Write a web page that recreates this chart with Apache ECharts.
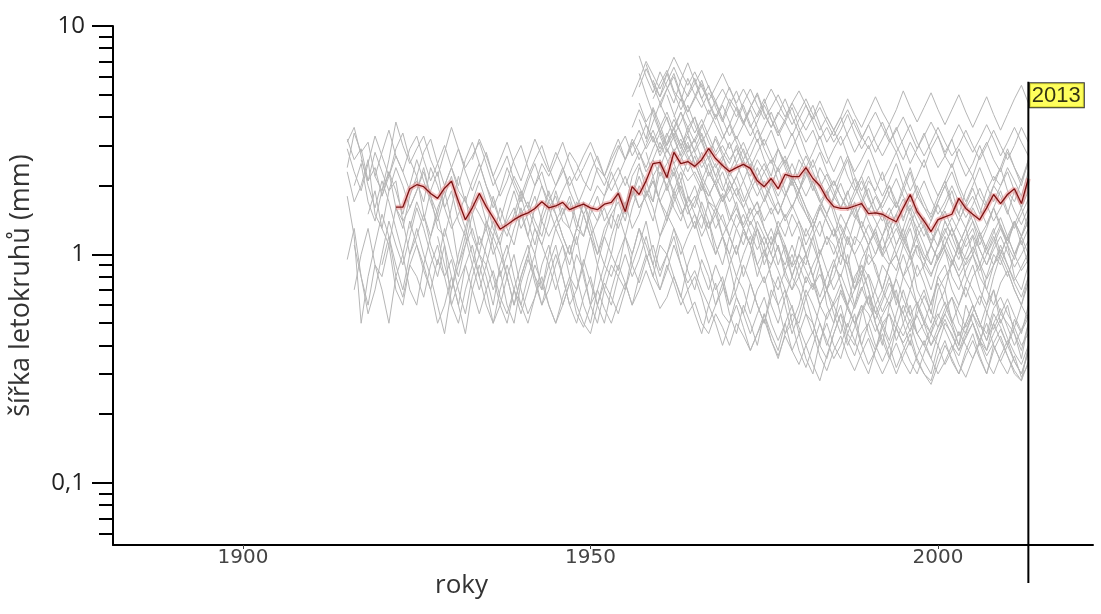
<!DOCTYPE html>
<html>
<head>
<meta charset="utf-8">
<title>šířka letokruhů</title>
<script src="https://cdn.jsdelivr.net/npm/echarts@6/dist/echarts.min.js"></script>
<style>
	html, body { margin: 0; padding: 0; background: #fff; }
	#chart { width: 1101px; height: 614px; }
</style>
</head>
<body>
<div id="chart"></div>
<script>
	// poslední rok - svislá značka
	const lastYear = 2013;
	const markerTop = 5.7;
	const markerBottom = 0.0365;
	const xTickYears = [1900, 1950, 2000];
	const yMajorTicks = [0.1, 1, 10];
	const yMinorTicks = [0.06, 0.07, 0.08, 0.09, 0.2, 0.3, 0.4, 0.5, 0.6, 0.7, 0.8, 0.9,
		2, 3, 4, 5, 6, 7, 8, 9];

	// průměrná křivka (1922 - 2013)
	const meanValues = [
		1.61, 1.61, 1.94, 2.02, 1.98, 1.85, 1.76, 1.95, 2.09, 1.71,
		1.42, 1.60, 1.85, 1.62, 1.45, 1.29, 1.35, 1.42, 1.48, 1.52,
		1.59, 1.70, 1.60, 1.63, 1.69, 1.57, 1.62, 1.66, 1.60, 1.57,
		1.66, 1.69, 1.85, 1.54, 1.98, 1.83, 2.10, 2.50, 2.53, 2.17,
		2.80, 2.50, 2.55, 2.43, 2.60, 2.91, 2.63, 2.45, 2.31, 2.40,
		2.48, 2.38, 2.10, 1.98, 2.15, 1.94, 2.24, 2.19, 2.19, 2.40,
		2.15, 2.00, 1.76, 1.62, 1.59, 1.59, 1.63, 1.67, 1.51, 1.52,
		1.50, 1.44, 1.39, 1.60, 1.83, 1.54, 1.40, 1.26, 1.42, 1.46,
		1.50, 1.76, 1.59, 1.50, 1.42, 1.60, 1.83, 1.67, 1.83, 1.94,
		1.67, 2.15
	];

	// jednotlivé vzorky, každý končí rokem 2013
	const grayValues = [
		[3.2, 2.6, 2.9, 2.1, 2.4, 1.8, 2.2, 2.7, 2.3, 1.9,
			2.1, 1.7, 2.4, 2.0, 1.6, 1.9, 1.4, 1.2, 1.7, 1.5,
			1.3, 1.0, 1.2, 1.4, 1.6, 1.3, 1.5, 1.8, 1.4, 1.2,
			1.4, 1.6, 1.3, 1.1, 1.5, 1.2, 1.0, 1.3, 1.5, 1.7,
			1.4, 1.9, 1.6, 1.8, 2.1, 1.7, 1.5, 1.9, 1.6, 1.3,
			1.5, 1.2, 1.4, 1.1, 0.9, 1.2, 1.0, 1.3, 1.1, 0.8,
			1.0, 0.9, 1.1, 0.8, 0.7, 0.9, 1.0, 0.8, 0.6, 0.7,
			0.9, 0.8, 1.0, 0.7, 0.8, 0.6, 0.7, 0.9, 0.8, 0.6,
			0.8, 1.0, 0.7, 0.6, 0.5, 0.7, 0.8, 0.9, 1.1, 0.8,
			0.7, 0.6, 0.8, 1.0, 0.9, 1.1, 0.8, 0.7, 0.9],
		[0.95, 1.3, 0.8, 0.55, 0.7, 1.0, 1.4, 1.1, 0.9, 1.2,
			1.6, 1.3, 1.0, 0.8, 1.1, 0.6, 0.5, 0.7, 0.9, 1.2,
			1.0, 0.8, 0.6, 0.5, 0.7, 0.9, 1.1, 0.8, 0.7, 1.0,
			1.3, 1.1, 0.9, 1.2, 0.8, 0.6, 0.9, 1.2, 1.0, 1.4,
			1.7, 1.3, 1.5, 1.9, 1.6, 1.2, 1.4, 1.8, 2.1, 1.6,
			1.3, 1.7, 1.4, 1.0, 1.2, 0.9, 1.1, 0.8, 1.0, 1.3,
			1.1, 0.8, 0.6, 0.7, 0.5, 0.6, 0.8, 0.7, 0.9, 0.6,
			0.5, 0.7, 0.6, 0.8, 0.9, 0.7, 0.5, 0.4, 0.6, 0.7,
			0.5, 0.4, 0.6, 0.5, 0.45, 0.6, 0.7, 0.5, 0.4, 0.6,
			0.5, 0.4, 0.55, 0.7, 0.5, 0.6, 0.45, 0.35, 0.5],
		[2.4, 3.4, 2.8, 3.1, 2.2, 1.9, 2.6, 3.8, 3.0, 2.5,
			2.9, 3.3, 2.6, 2.2, 2.8, 3.6, 2.9, 2.4, 2.7, 3.1,
			2.5, 2.0, 2.3, 2.7, 2.1, 1.8, 2.2, 2.6, 3.0, 2.4,
			2.0, 2.3, 2.8, 2.5, 2.1, 1.9, 2.4, 2.2, 2.7, 3.2,
			2.6, 3.0, 3.5, 2.9, 3.3, 2.7, 3.1, 3.6, 3.0, 2.6,
			2.9, 3.4, 2.8, 2.4, 2.7, 2.2, 2.5, 2.9, 2.4, 2.0,
			2.3, 2.6, 2.1, 1.8, 2.2, 1.9, 2.4, 2.0, 1.7, 1.5,
			1.8, 1.6, 1.9, 1.5, 1.3, 1.6, 1.4, 1.2, 1.5, 1.7,
			1.4, 1.8, 1.5, 1.3, 1.1, 1.4, 1.6, 1.9, 1.5, 1.3,
			1.6, 1.4, 1.7, 2.0, 1.8, 1.5, 1.9, 1.6, 2.1],
		[2.0, 2.5, 1.7, 1.4, 1.9, 2.3, 1.6, 1.3, 1.8,
			2.2, 1.5, 1.2, 1.6, 1.9, 1.4, 0.9, 1.1, 1.5, 1.8,
			1.4, 1.1, 0.8, 1.0, 1.3, 1.6, 1.2, 1.0, 1.4, 1.7,
			1.5, 1.2, 1.0, 1.3, 1.7, 1.4, 1.1, 0.9, 1.2, 1.5,
			1.2, 1.6, 2.0, 1.7, 1.4, 1.9, 2.3, 1.8, 1.5, 1.7,
			2.0, 1.6, 1.3, 1.5, 1.2, 1.4, 1.7, 1.3, 1.1, 1.3,
			1.0, 1.2, 0.9, 1.1, 0.8, 1.0, 1.3, 1.1, 0.9, 0.7,
			0.9, 1.1, 0.8, 0.6, 0.8, 1.0, 0.9, 0.7, 0.6, 0.8,
			1.0, 0.8, 0.6, 0.7, 0.55, 0.8, 0.9, 0.7, 0.6, 0.75,
			0.9, 0.7, 0.6, 0.8, 1.0, 0.85, 0.7, 0.6, 0.8],
		[1.8, 1.2, 0.5, 0.8, 1.1, 1.5, 1.2, 0.9, 0.7, 1.0,
			1.3, 1.0, 0.8, 0.6, 0.45, 0.7, 0.9, 1.2, 0.9, 0.7,
			0.9, 1.2, 1.0, 0.8, 0.6, 0.8, 1.0, 1.3, 1.1, 0.9,
			0.7, 0.9, 1.1, 0.8, 0.6, 0.5, 0.7, 0.9, 0.8, 1.0,
			1.2, 1.0, 1.3, 1.1, 0.9, 1.2, 1.5, 1.3, 1.0, 1.2,
			1.4, 1.1, 0.9, 0.7, 0.8, 0.6, 0.7, 0.9, 0.75, 0.6,
			0.5, 0.65, 0.8, 0.6, 0.45, 0.55, 0.7, 0.6, 0.5, 0.4,
			0.5, 0.6, 0.45, 0.4, 0.55, 0.65, 0.5, 0.42, 0.35, 0.48,
			0.6, 0.5, 0.4, 0.34, 0.3, 0.4, 0.5, 0.45, 0.38, 0.46,
			0.55, 0.45, 0.38, 0.5, 0.42, 0.36, 0.3, 0.28, 0.4],
		[2.6, 2.1, 2.8, 2.3, 1.9, 2.4, 2.0, 1.6,
			1.9, 2.3, 1.8, 1.5, 2.0, 2.4, 1.9, 1.7, 2.1, 2.5,
			2.0, 1.7, 1.4, 1.8, 2.2, 1.9, 1.6, 2.0, 2.3, 1.8,
			1.6, 1.9, 2.2, 1.8, 1.5, 1.7, 2.0, 1.8, 2.1, 2.4,
			2.0, 2.4, 2.8, 2.3, 2.6, 2.2, 2.5, 2.9, 2.4, 2.1,
			2.3, 2.0, 1.8, 2.1, 1.7, 1.9, 2.2, 1.8, 1.5, 1.7,
			1.4, 1.6, 1.3, 1.5, 1.2, 1.4, 1.1, 1.3, 1.0, 1.2,
			1.1, 0.9, 1.2, 1.0, 0.8, 1.1, 1.3, 1.0, 0.9, 1.1,
			1.3, 1.0, 0.8, 0.9, 1.1, 0.95, 1.2, 1.0, 0.85, 1.0,
			1.2, 0.9, 1.1, 1.3, 1.0, 1.2, 1.4, 1.1, 1.3],
		[1.1, 0.8, 0.6, 0.9, 0.7, 0.5, 0.8, 1.0, 0.7,
			0.6, 0.9, 0.7, 0.5, 0.6, 0.8, 0.6, 0.45, 0.7, 0.9,
			0.7, 0.5, 0.6, 0.8, 1.0, 0.7, 0.55, 0.65, 0.9, 1.1,
			0.8, 0.6, 0.75, 1.0, 0.85, 0.6, 0.5, 0.7, 0.9, 0.8,
			1.0, 0.8, 0.95, 1.2, 0.9, 0.7, 0.85, 1.1, 0.9, 0.7,
			0.8, 0.65, 0.5, 0.6, 0.75, 0.55, 0.45, 0.6, 0.5, 0.4,
			0.55, 0.45, 0.38, 0.5, 0.6, 0.45, 0.35, 0.3, 0.42, 0.5,
			0.4, 0.35, 0.45, 0.55, 0.4, 0.33, 0.38, 0.48, 0.4, 0.32,
			0.38, 0.45, 0.35, 0.3, 0.28, 0.36, 0.42, 0.34, 0.3, 0.38,
			0.45, 0.36, 0.3, 0.4, 0.34, 0.3, 0.36, 0.29, 0.33],
		[2.9, 2.3, 1.9, 2.5, 3.3, 2.7, 2.2, 2.9, 3.4, 2.6,
			2.2, 2.8, 3.2, 2.5, 2.0, 2.4, 2.9, 2.3, 1.9, 2.3,
			2.8, 2.2, 1.8, 2.1, 2.6, 3.0, 2.4, 2.0, 2.5, 2.2,
			2.6, 3.1, 2.5, 2.1, 2.4, 2.8, 2.3, 2.0, 2.4, 2.9,
			3.3, 2.7, 3.1, 3.7, 3.2, 2.8, 3.3, 3.9, 3.4, 2.9,
			3.2, 3.7, 3.1, 2.7, 3.0, 2.6, 2.9, 2.5, 2.2, 2.6,
			2.3, 2.0, 2.4, 2.7, 2.2, 1.9, 2.3, 2.0, 1.7, 1.9,
			2.1, 1.8, 1.6, 1.9, 2.2, 1.8, 1.5, 1.7, 2.0, 1.6,
			1.9, 2.3, 1.8, 1.6, 1.4, 1.7, 2.0, 2.3, 1.9, 1.6,
			1.8, 1.5, 1.9, 2.2, 2.0, 2.4, 2.1, 1.8, 2.3],
		[1.5, 1.9, 1.3, 1.1, 1.6, 1.4, 1.0,
			1.2, 1.5, 1.1, 0.9, 1.3, 1.0, 0.8, 1.1, 1.3, 1.0,
			0.8, 0.6, 0.9, 1.1, 0.8, 0.6, 0.8, 1.0, 0.7, 0.9,
			1.1, 0.8, 0.6, 0.7, 0.9, 1.2, 0.9, 0.7, 0.6, 0.8,
			0.7, 1.0, 1.3, 1.0, 0.8, 1.1, 1.0, 0.8, 0.65, 0.9,
			1.1, 0.85, 0.7, 0.9, 0.75, 0.6, 0.8, 0.7, 0.55, 0.7,
			0.8, 0.6, 0.5, 0.65, 0.8, 0.7, 0.55, 0.45, 0.6, 0.7,
			0.55, 0.45, 0.6, 0.5, 0.4, 0.5, 0.6, 0.5, 0.42, 0.55,
			0.7, 0.55, 0.45, 0.5, 0.4, 0.48, 0.58, 0.65, 0.5, 0.45,
			0.55, 0.48, 0.6, 0.7, 0.55, 0.5, 0.45, 0.38, 0.5],
		[1.8, 2.3, 1.9, 1.5, 2.0,
			2.6, 2.1, 1.7, 1.4, 1.8, 2.2, 1.6, 1.3, 1.7, 2.1,
			1.7, 1.3, 1.1, 1.5, 1.9, 1.5, 1.2, 1.6, 2.0, 1.6,
			1.3, 1.5, 1.8, 1.4, 1.2, 1.5, 1.8, 1.4, 1.6, 1.9,
			1.5, 1.8, 2.2, 1.8, 2.1, 1.7, 2.0, 2.4, 1.9, 1.6,
			1.8, 1.5, 1.3, 1.6, 1.4, 1.2, 1.5, 1.3, 1.1, 1.4,
			1.2, 1.0, 1.3, 1.1, 0.9, 1.2, 1.0, 0.8, 1.0, 1.2,
			1.0, 1.2, 0.9, 0.75, 0.95, 1.1, 0.85, 0.7, 0.9, 1.0,
			0.8, 0.9, 1.1, 0.85, 0.7, 0.9, 1.05, 0.8, 0.7, 0.85,
			1.0, 0.8, 0.7, 0.9, 1.1, 0.9, 0.75, 0.65, 0.8],
		[3.1, 3.6, 2.7, 2.0, 1.6, 2.1, 1.7, 1.3, 1.0, 1.4,
			1.1, 0.9, 1.2, 1.5, 1.1, 0.8, 0.6, 0.9, 1.1, 0.8,
			0.6, 0.5, 0.7, 0.9, 0.7, 0.55, 0.7, 0.9, 0.75, 0.6,
			0.5, 0.65, 0.8, 0.6, 0.5, 0.45, 0.6, 0.75, 0.65, 0.55,
			0.7, 0.9, 0.75, 0.95, 1.1, 0.85, 1.0, 1.2, 0.9, 0.75,
			0.85, 0.7, 0.6, 0.75, 0.55, 0.5, 0.65, 0.55, 0.45, 0.55,
			0.65, 0.5, 0.42, 0.5, 0.38, 0.45, 0.55, 0.5, 0.4, 0.35,
			0.45, 0.55, 0.42, 0.36, 0.45, 0.5, 0.4, 0.34, 0.4, 0.48,
			0.4, 0.34, 0.3, 0.37, 0.45, 0.4, 0.33, 0.38, 0.46, 0.4,
			0.35, 0.42, 0.5, 0.4, 0.34, 0.4, 0.48, 0.4, 0.45],
		[2.2, 2.8, 3.5, 2.7, 2.3, 2.9,
			3.3, 2.6, 2.1, 2.5, 3.0, 2.4, 2.0, 2.6, 3.1, 2.5,
			2.0, 1.6, 1.9, 2.4, 2.0, 1.7, 2.1, 2.5, 2.0, 1.7,
			2.0, 2.4, 1.9, 1.6, 1.9, 2.3, 2.7, 2.2, 1.9, 2.2,
			2.6, 3.1, 2.6, 3.0, 3.5, 2.9, 3.4, 2.8, 3.2, 2.7,
			2.4, 2.8, 2.3, 2.0, 2.3, 1.9, 2.2, 2.6, 2.1, 1.8,
			2.1, 1.8, 1.5, 1.8, 2.1, 1.7, 1.5, 1.3, 1.6, 1.4,
			1.2, 1.5, 1.3, 1.1, 1.4, 1.2, 1.0, 1.2, 1.4, 1.1,
			1.3, 1.6, 1.2, 1.0, 0.9, 1.1, 1.3, 1.1, 0.95, 1.15,
			1.3, 1.05, 0.9, 1.1, 1.3, 1.15, 1.4, 1.2, 1.5],
		[1.2, 0.9, 0.7, 1.0, 1.3, 1.0, 0.8,
			1.1, 1.4, 1.1, 0.8, 0.6, 0.8, 1.0, 0.75, 0.6, 0.8,
			1.0, 0.8, 0.6, 0.5, 0.65, 0.8, 0.6, 0.5, 0.7, 0.9,
			0.75, 0.6, 0.8, 1.0, 0.8, 0.7, 0.9, 0.75, 0.6, 0.7,
			0.55, 0.45, 0.6, 0.5, 0.4, 0.5, 0.6, 0.48, 0.38, 0.45,
			0.55, 0.42, 0.35, 0.45, 0.5, 0.38, 0.32, 0.4, 0.5, 0.42,
			0.35, 0.4, 0.5, 0.42, 0.35, 0.3, 0.38, 0.45, 0.36, 0.3,
			0.36, 0.42, 0.34, 0.3, 0.27, 0.33, 0.4, 0.35, 0.3, 0.36,
			0.42, 0.35, 0.3, 0.38, 0.44, 0.36, 0.31, 0.28, 0.34],
		[2.6, 3.2,
			2.7, 2.2, 2.6, 3.1, 2.5, 2.1, 2.6, 3.2, 2.7, 2.3,
			2.8, 2.4, 2.0, 2.3, 2.7, 3.1, 2.6, 2.2, 2.6, 3.0,
			2.6, 3.2, 2.8, 2.4, 2.9, 3.4, 2.9, 2.5, 2.8, 3.3,
			2.8, 2.4, 2.7, 2.2, 1.9, 2.3, 2.0, 1.7, 2.0, 2.4,
			2.0, 1.7, 1.5, 1.8, 2.1, 1.8, 1.5, 1.3, 1.6, 1.9,
			1.6, 1.3, 1.1, 1.4, 1.7, 1.4, 1.2, 1.0, 1.3, 1.5,
			1.2, 1.0, 1.3, 1.1, 0.9, 1.1, 1.4, 1.2, 1.0, 1.2,
			1.4, 1.1, 1.3, 1.6, 1.3, 1.1, 1.4, 1.2, 1.0],
		[1.4,
			1.8, 1.4, 1.1, 1.5, 1.9, 1.5, 1.2, 1.0, 1.3, 1.7,
			1.3, 1.0, 1.2, 1.5, 1.3, 1.6, 2.0, 1.6, 1.8, 2.2,
			1.7, 1.4, 1.7, 2.0, 1.6, 1.3, 1.5, 1.2, 1.0, 1.2,
			1.0, 0.8, 1.0, 1.2, 0.9, 0.75, 0.9, 1.1, 0.85, 0.7,
			0.8, 1.0, 0.8, 0.65, 0.8, 0.95, 0.75, 0.6, 0.7, 0.85,
			0.7, 0.55, 0.65, 0.8, 0.65, 0.55, 0.7, 0.6, 0.5, 0.62,
			0.75, 0.6, 0.5, 0.6, 0.72, 0.6, 0.5, 0.45, 0.58, 0.65,
			0.55, 0.48, 0.6, 0.52],
		[2.3, 1.7, 2.0, 2.6, 1.5, 1.3, 1.9, 2.1, 1.4, 1.6,
			1.9, 2.4, 1.8, 1.3, 1.2, 1.6, 2.2, 1.7, 1.5, 1.1,
			1.3, 1.8, 1.4, 1.2, 1.5, 1.9, 1.6, 1.3, 1.1, 1.4,
			1.9, 1.5, 1.7, 1.3, 1.2, 1.6, 1.4, 1.8, 2.3, 1.9,
			1.6, 2.2, 2.5, 1.9, 1.7, 2.3, 2.0, 1.6, 1.4, 1.8,
			1.5, 1.3, 1.7, 1.6, 1.2, 1.0, 1.3, 1.1, 1.4, 1.2,
			0.9, 1.1, 1.3, 1.0, 0.8, 1.0, 0.9, 1.2, 0.9, 0.7,
			0.8, 1.0, 0.9, 0.7, 0.9, 0.8, 0.6, 0.7, 0.9, 1.0,
			0.8, 0.7, 0.9, 0.75, 0.6, 0.8, 0.7, 0.95, 0.8, 0.65,
			0.8, 0.9, 0.7, 0.6, 0.75, 0.85, 0.7, 0.6, 0.75],
		[0.7, 1.0, 1.3, 0.9, 0.8, 1.1, 0.7, 0.6, 0.9,
			0.8, 0.65, 0.9, 1.1, 0.8, 0.95, 0.7, 0.55, 0.8, 1.0,
			0.9, 0.7, 0.85, 0.6, 0.5, 0.75, 0.95, 0.8, 0.6, 0.7,
			0.9, 1.1, 0.8, 0.7, 0.95, 0.75, 0.6, 0.8, 1.0, 0.85,
			1.2, 0.9, 1.1, 1.4, 1.0, 0.8, 1.0, 1.3, 1.1, 0.85,
			0.7, 0.95, 0.8, 0.6, 0.7, 0.9, 0.65, 0.55, 0.75, 0.6,
			0.5, 0.7, 0.6, 0.45, 0.55, 0.5, 0.65, 0.5, 0.4, 0.55,
			0.6, 0.5, 0.4, 0.48, 0.6, 0.45, 0.38, 0.5, 0.55, 0.42,
			0.5, 0.6, 0.45, 0.4, 0.35, 0.45, 0.55, 0.48, 0.4, 0.5,
			0.6, 0.5, 0.42, 0.55, 0.48, 0.4, 0.52, 0.45, 0.6],
		[1.3,
			1.7, 1.4, 1.9, 2.3, 1.6, 1.3, 1.5, 1.8, 1.2, 1.0,
			1.4, 1.2, 1.6, 1.3, 1.1, 1.5, 1.7, 1.4, 1.2, 1.6,
			1.8, 1.4, 1.3, 1.7, 1.5, 1.2, 1.4, 1.6, 1.3, 1.9,
			2.2, 1.8, 2.4, 2.1, 1.7, 2.6, 2.2, 1.9, 2.3, 1.8,
			1.6, 2.0, 1.7, 1.5, 1.8, 1.4, 1.6, 1.3, 1.5, 1.7,
			1.3, 1.1, 1.4, 1.2, 1.5, 1.3, 1.0, 1.2, 1.4, 1.1,
			1.3, 1.0, 0.9, 1.2, 1.1, 0.9, 1.0, 1.2, 0.95, 0.85,
			1.1, 1.3, 1.0, 0.9, 0.8, 1.0, 1.1, 1.3, 1.05, 0.9,
			1.0, 1.2, 1.0, 1.15, 1.35, 1.1, 0.95, 1.2, 1.4],
		[0.9, 1.2, 0.8, 0.65, 0.9,
			1.1, 0.85, 0.7, 0.95, 0.8, 0.6, 0.75, 0.9, 0.7, 0.55,
			0.7, 0.85, 0.65, 0.55, 0.7, 0.6, 0.5, 0.65, 0.8, 0.6,
			0.5, 0.6, 0.75, 0.55, 0.48, 0.6, 0.7, 0.58, 0.5, 0.62,
			0.75, 0.6, 0.7, 0.85, 0.7, 0.58, 0.65, 0.8, 0.66, 0.55,
			0.62, 0.5, 0.45, 0.55, 0.48, 0.4, 0.5, 0.44, 0.38, 0.45,
			0.52, 0.42, 0.36, 0.44, 0.38, 0.33, 0.4, 0.46, 0.36, 0.31,
			0.38, 0.44, 0.36, 0.31, 0.37, 0.43, 0.35, 0.3, 0.35, 0.41,
			0.34, 0.3, 0.36, 0.42, 0.35, 0.3, 0.34, 0.4, 0.33, 0.29,
			0.35, 0.41, 0.34, 0.3, 0.36, 0.42, 0.34, 0.3, 0.38],
		// mladší vzorky od konce 50. let
		[7.4, 6.0, 5.1, 6.3,
			5.4, 4.6, 5.8, 6.9, 5.7, 4.8, 5.5, 4.4, 3.8, 4.5,
			5.2, 4.3, 3.6, 4.1, 4.8, 3.9, 3.3, 3.8, 4.4, 3.6,
			3.1, 3.5, 2.9, 2.5, 2.9, 3.3, 2.7, 2.3, 2.6, 3.0,
			2.5, 2.1, 2.4, 2.8, 2.3, 1.9, 2.2, 2.6, 2.1, 1.8,
			2.1, 2.5, 2.0, 1.7, 2.0, 2.4, 2.0, 1.7, 2.0, 2.3, 1.9, 1.6, 1.9],
		[6.8, 5.5, 4.6,
			5.3, 6.2, 5.0, 4.2, 4.9, 5.8, 4.7, 4.0, 4.6, 5.4,
			4.5, 3.8, 4.4, 5.1, 4.2, 3.6, 4.1, 4.8, 4.0, 3.4,
			3.9, 4.5, 3.7, 3.1, 3.5, 4.0, 3.3, 2.8, 3.2, 3.7,
			3.1, 2.7, 3.1, 3.6, 3.0, 2.5, 2.9, 3.4, 2.8, 2.4,
			2.7, 3.2, 2.6, 2.2, 2.5, 3.0, 2.5, 2.1, 2.4, 2.9, 2.4, 2.0, 2.6],
		[4.6, 3.8, 4.3, 3.5,
			3.0, 3.6, 4.2, 3.4, 2.8, 3.2, 2.6, 2.2, 2.6, 3.1,
			2.5, 2.1, 2.5, 2.0, 1.7, 2.0, 2.4, 1.9, 1.6, 1.9,
			1.6, 1.3, 1.6, 1.9, 1.5, 1.2, 1.4, 1.7, 1.3, 1.1,
			1.3, 1.5, 1.2, 1.0, 1.2, 1.45, 1.15, 0.95, 1.1, 1.3,
			1.05, 0.9, 1.1, 1.3, 1.0, 0.85, 1.0, 1.2, 0.95, 0.8, 1.0, 1.15, 0.9],
		[5.8, 4.9,
			6.2, 5.1, 4.3, 5.0, 5.9, 4.8, 4.1, 4.7, 3.9, 3.3,
			3.8, 4.5, 3.7, 3.1, 3.6, 4.2, 3.5, 2.9, 3.4, 2.8,
			2.4, 2.8, 3.3, 2.7, 2.3, 2.7, 2.2, 1.9, 2.2, 2.6,
			2.1, 1.8, 2.1, 2.5, 2.0, 1.7, 2.0, 1.7, 1.45, 1.7,
			2.0, 1.65, 1.4, 1.65, 1.95, 1.6, 1.35, 1.6, 1.9, 1.55, 1.3, 1.5, 1.75],
		[6.2, 5.0, 4.1, 3.4,
			4.0, 3.2, 2.7, 3.1, 2.5, 2.1, 2.5, 2.0, 1.7, 2.0,
			1.6, 1.35, 1.6, 1.3, 1.1, 1.3, 1.05, 0.9, 1.1, 0.9,
			0.75, 0.9, 1.05, 0.85, 0.7, 0.82, 0.68, 0.58, 0.7, 0.82,
			0.68, 0.56, 0.66, 0.78, 0.64, 0.54, 0.62, 0.52, 0.45, 0.53,
			0.62, 0.52, 0.44, 0.5, 0.6, 0.5, 0.42, 0.5, 0.58, 0.48, 0.4, 0.47, 0.55],
		[4.4,
			5.3, 6.0, 4.9, 4.2, 4.8, 5.6, 4.6, 3.9, 4.5, 3.8,
			3.2, 3.7, 4.3, 3.6, 3.0, 3.5, 2.9, 2.5, 2.9, 3.4,
			2.8, 2.4, 2.8, 2.3, 2.0, 2.3, 2.7, 2.2, 1.9, 2.2,
			1.85, 1.6, 1.85, 2.15, 1.8, 1.55, 1.8, 2.1, 1.75, 1.5,
			1.7, 2.0, 1.7, 1.45, 1.65, 1.95, 1.65, 1.4, 1.6, 1.85, 1.55, 1.35, 1.6],
		[3.6, 4.3, 3.7, 3.1, 3.6,
			4.2, 3.5, 3.0, 3.4, 4.0, 3.3, 2.8, 3.2, 2.7, 2.3,
			2.7, 3.1, 2.6, 2.2, 2.5, 2.1, 1.8, 2.1, 2.5, 2.1,
			1.8, 2.1, 1.75, 1.5, 1.75, 2.05, 1.7, 1.45, 1.65, 1.95,
			1.6, 1.4, 1.6, 1.35, 1.15, 1.35, 1.6, 1.35, 1.15, 1.3,
			1.55, 1.3, 1.1, 1.3, 1.5, 1.25, 1.05, 1.25, 1.45, 1.2, 1.0, 1.2, 1.4],
		[3.1, 3.8, 4.6,
			3.9, 3.3, 3.8, 4.5, 3.7, 3.1, 3.5, 4.1, 3.4, 2.9,
			3.3, 2.8, 2.4, 2.8, 3.2, 2.7, 2.3, 2.6, 2.2, 1.9,
			2.2, 2.6, 2.1, 1.8, 2.1, 1.8, 1.55, 1.8, 2.1, 1.75,
			1.5, 1.7, 2.0, 1.7, 1.45, 1.65, 1.4, 1.2, 1.4, 1.65,
			1.4, 1.2, 1.4, 1.65, 1.4, 1.2, 1.35, 1.6, 1.35, 1.15, 1.35, 1.6, 1.3],
		[5.0, 4.1, 3.4, 2.8, 3.2, 2.6, 2.2, 2.5, 2.0, 1.7,
			1.95, 1.6, 1.35, 1.55, 1.3, 1.1, 1.25, 1.05, 0.88, 1.0,
			0.85, 0.72, 0.82, 0.7, 0.6, 0.68, 0.58, 0.5, 0.57, 0.66,
			0.56, 0.48, 0.55, 0.47, 0.41, 0.47, 0.54, 0.46, 0.4, 0.45,
			0.52, 0.44, 0.38, 0.43, 0.5, 0.42, 0.36, 0.41, 0.47, 0.4, 0.34, 0.3, 0.37],
		[5.4, 6.5, 5.6, 4.9,
			5.7, 6.6, 5.6, 4.9, 5.6, 6.4, 5.4, 4.7, 5.3, 4.6,
			4.0, 4.6, 5.3, 4.5, 3.9, 4.4, 5.0, 4.3, 3.7, 4.2,
			4.8, 4.1, 3.5, 4.0, 3.5, 3.0, 3.4, 3.9, 3.3, 2.9,
			3.3, 3.8, 3.2, 2.8, 3.2, 3.7, 3.1, 2.7, 3.1, 3.6,
			3.1, 2.7, 3.0, 3.5, 3.0, 2.6, 3.0, 3.5, 3.0, 2.6, 3.0, 3.6, 3.1],
		[2.6, 3.1,
			2.6, 2.2, 2.6, 3.0, 2.5, 2.1, 1.8, 2.1, 2.5, 2.1,
			1.8, 2.1, 1.75, 1.5, 1.75, 2.05, 1.7, 1.45, 1.65, 1.4,
			1.2, 1.4, 1.65, 1.4, 1.2, 1.35, 1.15, 1.0, 1.15, 1.35,
			1.15, 0.98, 1.12, 1.3, 1.1, 0.95, 1.1, 0.95, 0.82, 0.95,
			1.1, 0.94, 0.8, 0.92, 1.08, 0.92, 0.78, 0.9, 1.05, 0.9, 0.77, 0.88, 1.02],
		[4.0, 4.8, 4.0, 3.4, 3.9, 3.3, 2.8, 3.2,
			3.7, 3.1, 2.6, 3.0, 3.5, 2.9, 2.5, 2.9, 2.4, 2.0,
			2.3, 2.7, 2.3, 1.95, 2.25, 1.9, 1.6, 1.85, 2.15, 1.8,
			1.55, 1.8, 1.55, 1.3, 1.5, 1.75, 1.5, 1.3, 1.45, 1.25,
			1.08, 1.25, 1.45, 1.25, 1.08, 1.22, 1.05, 0.9, 1.05, 1.2, 1.02, 0.88, 1.0, 1.15],
		[3.3,
			2.8, 3.3, 2.7, 2.3, 2.7, 2.2, 1.9, 1.6, 1.85, 1.5,
			1.3, 1.5, 1.25, 1.05, 1.2, 1.0, 0.85, 0.7, 0.58, 0.48,
			0.4, 0.33, 0.28, 0.36, 0.45, 0.55, 0.48, 0.6, 0.72, 0.6,
			0.52, 0.62, 0.75, 0.64, 0.55, 0.46, 0.55, 0.66, 0.56, 0.48,
			0.55, 0.65, 0.56, 0.48, 0.56, 0.66, 0.56, 0.47, 0.55, 0.64, 0.54, 0.46, 0.53],
		[4.9, 5.8, 7.0, 6.1, 5.3,
			6.2, 7.3, 6.3, 5.5, 6.3, 5.4, 4.7, 5.4, 6.2, 5.3,
			4.6, 5.3, 4.6, 4.0, 4.6, 5.3, 4.6, 4.0, 4.6, 5.2,
			4.5, 3.9, 4.4, 3.8, 3.3, 3.8, 4.3, 3.7, 3.2, 3.7,
			4.2, 3.6, 3.1, 3.5, 4.0, 3.4, 2.9, 3.3, 3.8, 3.3,
			2.8, 3.2, 3.7, 3.2, 2.8, 3.2, 3.7, 3.2, 2.7, 3.1, 3.6, 3.1, 2.7],
		[3.5, 4.2, 3.6, 3.1, 3.6, 4.3, 3.7, 3.2,
			3.7, 4.4, 3.8, 3.3, 3.8, 4.5, 3.9, 3.4, 3.9, 4.6,
			4.0, 3.5, 4.0, 4.7, 4.0, 3.5, 4.0, 4.8, 4.1, 3.6,
			4.2, 4.9, 4.2, 3.7, 4.3, 5.2, 4.4, 3.8, 4.4, 5.1,
			4.3, 3.7, 4.3, 5.0, 4.2, 3.6, 4.2, 4.9, 4.1, 3.5, 4.1, 4.8, 5.5, 4.6],
		[3.9, 3.2, 4.4, 3.7,
			3.0, 3.4, 2.9, 3.6, 4.0, 3.1, 2.6, 3.3, 2.8, 2.5,
			3.0, 2.4, 2.7, 3.2, 2.6, 2.2, 2.9, 2.5, 2.1, 2.6,
			2.3, 1.9, 2.4, 2.1, 1.8, 2.2, 2.6, 2.0, 1.7, 2.1,
			1.9, 2.3, 1.8, 1.6, 2.0, 2.4, 1.9, 1.6, 1.5, 1.8,
			2.1, 1.7, 1.5, 1.9, 2.2, 1.8, 1.6, 2.0, 2.4, 1.9, 1.7, 2.1, 2.5],
		[2.8, 2.2, 2.5,
			1.9, 2.3, 1.8, 1.5, 1.7, 2.1, 1.6, 1.3, 1.5, 1.2,
			1.0, 1.25, 1.1, 0.9, 1.05, 0.8, 0.7, 0.85, 1.0, 0.8,
			0.65, 0.75, 0.6, 0.52, 0.62, 0.74, 0.58, 0.5, 0.6, 0.55,
			0.46, 0.54, 0.62, 0.5, 0.44, 0.52, 0.45, 0.4, 0.48, 0.55,
			0.47, 0.4, 0.36, 0.44, 0.5, 0.42, 0.38, 0.45, 0.52, 0.43, 0.37, 0.33, 0.4],
		[4.8, 5.6,
			6.4, 5.2, 4.7, 5.9, 5.0, 4.4, 5.1, 4.6, 3.9, 4.8,
			4.3, 3.7, 4.4, 5.0, 4.1, 3.6, 4.2, 3.8, 3.3, 3.9,
			4.5, 3.8, 3.2, 3.6, 3.1, 3.5, 4.1, 3.4, 2.9, 3.3,
			2.8, 3.2, 3.7, 3.0, 2.6, 3.1, 2.7, 2.4, 2.9, 3.3,
			2.7, 2.4, 2.9, 2.5, 2.2, 2.7, 3.1, 2.6, 2.3, 2.8, 2.4, 2.1, 2.6],
		[2.4,
			2.9, 2.5, 2.1, 2.6, 2.2, 1.9, 2.3, 2.0, 1.7, 2.1,
			1.8, 1.6, 1.9, 2.2, 1.8, 1.5, 1.7, 1.4, 1.6, 1.9,
			1.6, 1.4, 1.2, 1.5, 1.3, 1.1, 1.4, 1.6, 1.3, 1.1,
			1.25, 1.05, 1.2, 1.4, 1.15, 1.0, 1.2, 1.35, 1.1, 0.95,
			1.1, 1.3, 1.1, 0.95, 1.05, 1.25, 1.05, 0.9, 1.0, 1.2, 1.0, 0.85, 0.95]
	];

	// roky počítáme od konce řady (všechny končí v roce 2013)
	function toPoints(values) {
		const first = lastYear - values.length + 1;
		return values.map((v, i) => [first + i, v]);
	}

	const chart = echarts.init(document.getElementById('chart'));

	const series = grayValues.map(vals => ({
		type: 'line',
		data: toPoints(vals),
		symbol: 'none',
		silent: true,
		z: 1,
		lineStyle: { color: '#b6b6b6', width: 1 }
	}));

	// průměr - světlý lem + tmavá čára
	series.push({
		type: 'line',
		data: toPoints(meanValues),
		symbol: 'none',
		silent: true,
		z: 2,
		lineStyle: { color: 'rgba(236,140,140,0.5)', width: 5 }
	});
	series.push({
		type: 'line',
		data: toPoints(meanValues),
		symbol: 'none',
		silent: true,
		z: 3,
		lineStyle: { color: '#7e1212', width: 1.3 }
	});

	// svislá čára 2013
	series.push({
		type: 'line',
		data: [[lastYear, markerTop], [lastYear, markerBottom]],
		symbol: 'none',
		clip: false,
		silent: true,
		z: 5,
		lineStyle: { color: '#000', width: 2 }
	});
	series.push({
		type: 'scatter',
		data: [[lastYear, markerTop]],
		symbolSize: 1,
		itemStyle: { color: 'rgba(0,0,0,0)' },
		silent: true,
		z: 6,
		label: {
			show: true,
			position: [2, 2],
			formatter: String(lastYear),
			fontFamily: 'Liberation Sans',
			fontSize: 22,
			lineHeight: 23,
			color: '#000',
			backgroundColor: '#ffff33',
			borderColor: '#000',
			borderWidth: 1,
			padding: [1, 3, 0, 2]
		}
	});

	const option = {
		backgroundColor: '#fff',
		animation: false,
		grid: { left: 112, right: 8, top: 26, bottom: 69 },
		xAxis: {
			type: 'value',
			min: 1881.3,
			max: 2022.3,
			name: 'roky',
			nameLocation: 'middle',
			nameGap: 28,
			nameTextStyle: {
				fontFamily: 'Open Sans',
				fontSize: 26,
				color: '#333',
				padding: [0, 283, 0, 0]
			},
			axisLine: { lineStyle: { color: '#000', width: 2 } },
			axisTick: {
				customValues: xTickYears,
				length: 4,
				lineStyle: { color: '#444', width: 1 }
			},
			axisLabel: {
				customValues: xTickYears,
				formatter: v => String(v),
				margin: 3,
				fontFamily: 'DejaVu Sans',
				fontSize: 20,
				color: '#444'
			},
			splitLine: { show: false }
		},
		yAxis: [{
			type: 'log',
			logBase: 10,
			min: 0.0535,
			max: 10,
			name: 'šířka letokruhů (mm)',
			nameLocation: 'middle',
			nameGap: 78,
			nameTextStyle: {
				fontFamily: 'Open Sans',
				fontSize: 27,
				color: '#333'
			},
			axisLine: { show: true, lineStyle: { color: '#000', width: 2 } },
			axisTick: {
				customValues: yMajorTicks,
				length: 21,
				lineStyle: { color: '#000', width: 2 }
			},
			axisLabel: {
				customValues: yMajorTicks,
				margin: 28,
				fontFamily: 'Open Sans',
				fontSize: 24,
				color: '#222',
				formatter: v => String(v).replace('.', ',')
			},
			splitLine: { show: false }
		}, {
			// vedlejší dílky
			type: 'log',
			logBase: 10,
			min: 0.0535,
			max: 10,
			position: 'left',
			axisLine: { show: false },
			axisTick: {
				customValues: yMinorTicks,
				length: 14,
				lineStyle: { color: '#000', width: 2 }
			},
			axisLabel: { show: false },
			splitLine: { show: false }
		}],
		series: series
	};

	chart.setOption(option);
</script>
</body>
</html>
